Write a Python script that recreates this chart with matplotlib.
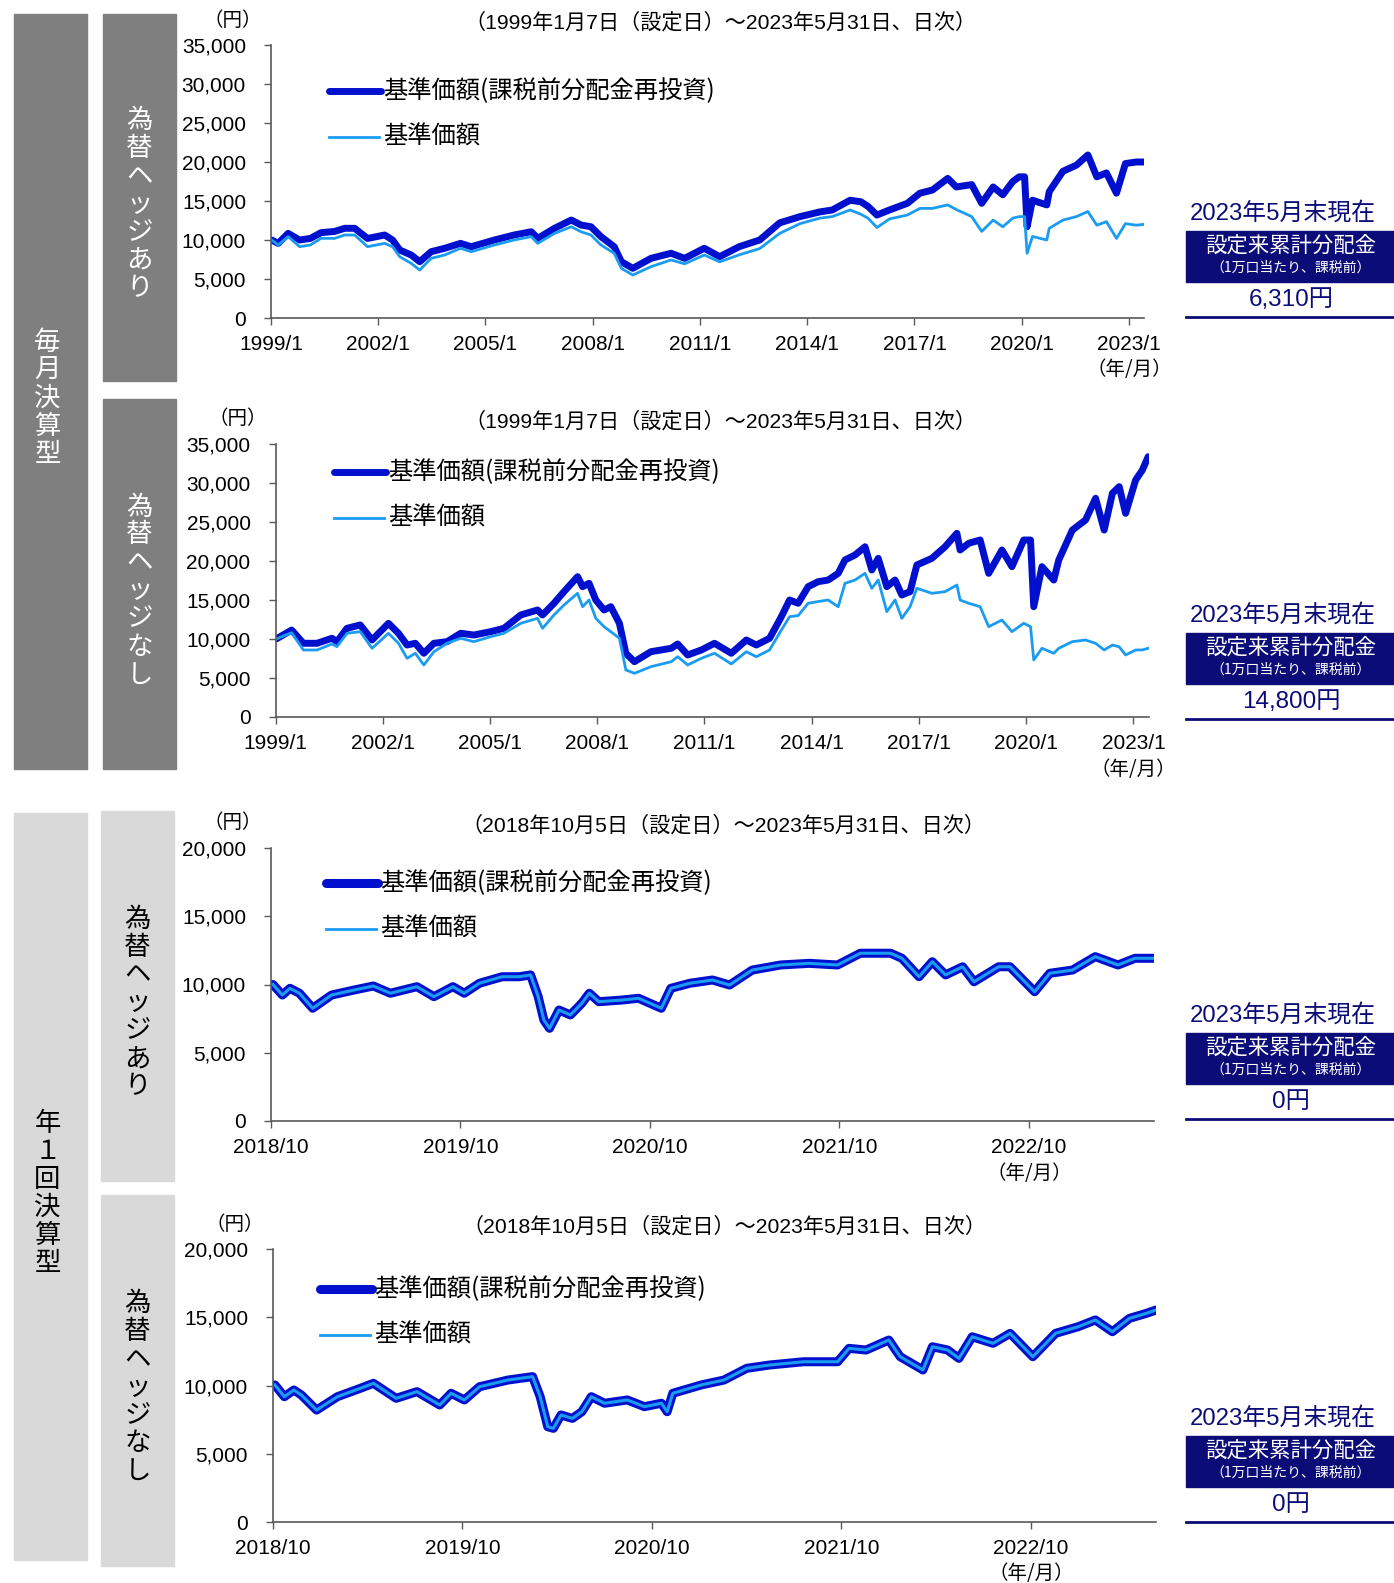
import matplotlib
matplotlib.use('Agg')
import matplotlib.pyplot as plt
from matplotlib.patches import Rectangle
from matplotlib.lines import Line2D

plt.rcParams['font.family'] = ['Liberation Sans', 'Noto Sans CJK JP', 'DejaVu Sans']
JP = ['Noto Sans CJK JP', 'DejaVu Sans']

# ---- data (decimal years) ----
# monthly settlement, hedged
mh_years = [1999.02, 1999.2, 1999.48, 1999.8, 2000.1, 2000.4, 2000.78, 2001.06, 2001.34, 2001.7,
            2002.18, 2002.4, 2002.6, 2002.92, 2003.16, 2003.48, 2003.86, 2004.3, 2004.6, 2005.25,
            2005.8, 2006.28, 2006.46, 2006.93, 2007.4, 2007.67, 2007.95, 2008.23, 2008.6, 2008.8,
            2009.12, 2009.63, 2010.19, 2010.57, 2011.12, 2011.55, 2012.1, 2012.67, 2013.23, 2013.8,
            2014.35, 2014.7, 2015.2, 2015.5, 2015.7, 2015.95, 2016.3, 2016.8, 2017.15, 2017.5,
            2017.93, 2018.17, 2018.6, 2018.88, 2019.2, 2019.47, 2019.75, 2019.93, 2020.08, 2020.15,
            2020.3, 2020.7, 2020.77, 2021.15, 2021.53, 2021.85, 2022.1, 2022.37, 2022.65, 2022.9,
            2023.2, 2023.41]
mh_reinv = [10000, 9570, 10850, 10000, 10200, 10940, 11100, 11500, 11500, 10200,
            10640, 10000, 8720, 8080, 7220, 8500, 8940, 9570, 9140, 10000,
            10640, 11060, 10210, 11500, 12560, 11920, 11700, 10430, 9140, 7220,
            6370, 7650, 8300, 7650, 8940, 7860, 9150, 10000, 12200, 13000,
            13600, 13850, 15100, 14900, 14300, 13200, 13850, 14700, 16000, 16400,
            17900, 16800, 17100, 14700, 16800, 15800, 17500, 18100, 18100, 11700,
            15100, 14500, 16200, 18800, 19600, 20900, 18100, 18600, 16000, 19800,
            20000, 20000]
mh_nav = [10000, 9360, 10430, 9140, 9360, 10210, 10210, 10640, 10640, 9140,
          9570, 9140, 7860, 7010, 6150, 7650, 8080, 8940, 8500, 9360,
          10000, 10430, 9570, 10850, 11700, 11060, 10640, 9360, 8300, 6370,
          5510, 6580, 7440, 6950, 8080, 7200, 8100, 8900, 10850, 12100,
          12800, 13000, 13850, 13300, 12800, 11600, 12700, 13200, 14050, 14050,
          14500, 13900, 13000, 11100, 12550, 11700, 12800, 13000, 13000, 8300,
          10450, 10000, 11500, 12550, 13000, 13650, 11900, 12350, 10200, 12100,
          11900, 12000]

# monthly settlement, unhedged
mu_years = [1999.02, 1999.45, 1999.78, 2000.16, 2000.58, 2000.72, 2001.0, 2001.37, 2001.7, 2002.16,
            2002.44, 2002.68, 2002.91, 2003.15, 2003.43, 2003.8, 2004.18, 2004.55, 2005.02, 2005.39,
            2005.86, 2006.33, 2006.47, 2006.79, 2007.07, 2007.45, 2007.59, 2007.77, 2007.96, 2008.19,
            2008.38, 2008.62, 2008.8, 2009.04, 2009.5, 2010.07, 2010.25, 2010.53,
            2010.91, 2011.28, 2011.75, 2012.17, 2012.45, 2012.82, 2013.15, 2013.38, 2013.62, 2013.9,
            2014.18, 2014.46, 2014.74, 2014.93, 2015.21, 2015.49, 2015.68, 2015.86, 2016.1, 2016.33,
            2016.52, 2016.75, 2016.94, 2017.36, 2017.73, 2018.06, 2018.15, 2018.39, 2018.71, 2018.95,
            2019.32, 2019.6, 2019.93, 2020.12, 2020.21, 2020.44, 2020.77, 2020.91, 2021.29, 2021.66,
            2021.94, 2022.18, 2022.41, 2022.6, 2022.78, 2023.06, 2023.25, 2023.41]
mu_reinv = [10000, 11150, 9450, 9450, 10090, 9660, 11370, 11800, 9870, 12010,
            10730, 9230, 9450, 8170, 9450, 9660, 10730, 10510, 10940, 11370,
            13080, 13720, 13080, 14580, 16070, 17990, 16710, 17140, 15000, 13720,
            14140, 12010, 8170, 7090, 8370, 8810, 9360, 7950,
            8590, 9450, 8170, 9870, 9230, 10090, 12860, 15000, 14580, 16710,
            17350, 17560, 18420, 20130, 20770, 21830, 18850, 20340, 16710, 17560,
            15640, 16070, 19490, 20340, 21830, 23550, 21410, 22270, 22690, 18420,
            21410, 19270, 22690, 22690, 14140, 19270, 17560, 20130, 23970, 25260,
            28040, 23970, 28680, 29530, 26110, 30380, 31670, 33370]
mu_nav = [10000, 10810, 8590, 8590, 9360, 9020, 10730, 10940, 8810, 10730,
          9450, 7520, 8170, 6670, 8370, 9450, 10090, 9660, 10300, 10730,
          12010, 12650, 11370, 13080, 14360, 15860, 14140, 15000, 12650, 11580,
          10940, 10090, 6030, 5600, 6450, 7090, 7730, 6670,
          7520, 8170, 6800, 8370, 7730, 8590, 11150, 12860, 13000, 14580,
          14800, 15000, 14140, 17140, 17560, 18420, 16500, 17560, 13500, 15000,
          12650, 14140, 16500, 15860, 16070, 16920, 15000, 14580, 14140, 11580,
          12440, 10940, 12010, 11580, 7310, 8810, 8170, 8810, 9660, 9870,
          9450, 8590, 9230, 9000, 7950, 8590, 8600, 8810]

# annual settlement, hedged (no distributions -> both series equal)
ah_years = [2018.76, 2018.81, 2018.85, 2018.9, 2018.97, 2019.07, 2019.19, 2019.29, 2019.38, 2019.52,
            2019.61, 2019.71, 2019.77, 2019.85, 2019.97, 2020.06, 2020.12, 2020.16, 2020.19, 2020.22,
            2020.27, 2020.33, 2020.39, 2020.43, 2020.48, 2020.6, 2020.69, 2020.81, 2020.86, 2020.96,
            2021.08, 2021.17, 2021.29, 2021.44, 2021.59, 2021.74, 2021.86, 2022.02, 2022.08, 2022.17,
            2022.24, 2022.31, 2022.4, 2022.46, 2022.59, 2022.65, 2022.78, 2022.86, 2022.98, 2023.1,
            2023.22, 2023.31, 2023.41]
ah_nav = [10000, 9230, 9720, 9360, 8260, 9230, 9600, 9890, 9360, 9840,
          9110, 9840, 9360, 10090, 10570, 10570, 10700, 9110, 7400, 6790,
          8130, 7770, 8620, 9360, 8740, 8860, 8990, 8260, 9720, 10090,
          10330, 9960, 11060, 11430, 11550, 11430, 12290, 12290, 11920, 10570,
          11670, 10700, 11300, 10200, 11300, 11300, 9470, 10820, 11060, 12040,
          11430, 11920, 11920]
ah_reinv = list(ah_nav)

# annual settlement, unhedged
au_years = [2018.76, 2018.81, 2018.86, 2018.9, 2018.98, 2019.09, 2019.21, 2019.28, 2019.4, 2019.51,
            2019.63, 2019.69, 2019.76, 2019.84, 2019.99, 2020.12, 2020.16, 2020.2, 2020.23, 2020.27,
            2020.33, 2020.38, 2020.43, 2020.5, 2020.62, 2020.71, 2020.8, 2020.83, 2020.86, 2021.01,
            2021.13, 2021.25, 2021.37, 2021.55, 2021.73, 2021.79, 2021.88, 2022.0, 2022.06, 2022.18,
            2022.23, 2022.31, 2022.37, 2022.44, 2022.55, 2022.64, 2022.76, 2022.88, 2023.0, 2023.09,
            2023.18, 2023.27, 2023.36, 2023.41]
au_nav = [10040, 9180, 9670, 9300, 8200, 9180, 9790, 10160, 9060, 9550,
          8570, 9430, 8940, 9910, 10400, 10650, 9180, 6980, 6860, 7840,
          7590, 8080, 9180, 8700, 8940, 8450, 8700, 8080, 9430, 10040,
          10400, 11260, 11500, 11740, 11740, 12720, 12600, 13330, 12110, 11140,
          12840, 12600, 11990, 13570, 13090, 13820, 12110, 13820, 14310, 14800,
          13940, 14920, 15290, 15530]
au_reinv = list(au_nav)

monthly_ticks = [1999, 2002, 2005, 2008, 2011, 2014, 2017, 2020, 2023]
monthly_labels = ['1999/1', '2002/1', '2005/1', '2008/1', '2011/1', '2014/1', '2017/1', '2020/1', '2023/1']
annual_ticks = [2018.75, 2019.75, 2020.75, 2021.75, 2022.75]
annual_labels = ['2018/10', '2019/10', '2020/10', '2021/10', '2022/10']

monthly_period = '（1999年1月7日（設定日）～2023年5月31日、日次）'
annual_period = '（2018年10月5日（設定日）～2023年5月31日、日次）'
dist_values = ['6,310円', '14,800円', '0円', '0円']

DARK = '#0010cc'
LIGHT = '#1a9cf2'
NAVY = '#0c0c78'
AXC = '#595959'

W, H = 1394, 1583
fig = plt.figure(figsize=(W / 100, H / 100), dpi=100)


def fx(x):
    return x / W


def fy(y):
    return 1 - y / H


def band(x0, x1, y0, y1, color, label, tcolor, dx=0):
    fig.add_artist(Rectangle((fx(x0), fy(y1)), (x1 - x0) / W, (y1 - y0) / H,
                             transform=fig.transFigure, color=color, zorder=0))
    step = 28
    yc = (y0 + y1) / 2 + 7
    n = len(label)
    for i, ch in enumerate(label):
        fig.text(fx((x0 + x1) / 2 + dx), fy(yc + (i - (n - 1) / 2) * step), ch,
                 ha='center', va='center', fontsize=19, color=tcolor, family=JP)


def tick_px(ax, t):
    x0, x1 = ax.get_xlim()
    bb = ax.get_position()
    return (bb.x0 + (t - x0) / (x1 - x0) * bb.width) * W


def chart(x0, x1, y0, y1, years, reinv, nav, xlim, ymax, ticks, labels,
          thick, thin, title, title_x, leg_x, leg_y):
    ax = fig.add_axes([fx(x0), fy(y1), (x1 - x0) / W, (y1 - y0) / H])
    ax.plot(years, reinv, color=DARK, lw=thick, solid_joinstyle='round', solid_capstyle='round')
    ax.plot(years, nav, color=LIGHT, lw=thin, solid_joinstyle='round')
    ax.set_xlim(*xlim)
    ax.set_ylim(0, ymax)
    ax.set_yticks(range(0, ymax + 1, 5000))
    ax.set_yticklabels([f'{v:,}' for v in range(0, ymax + 1, 5000)])
    ax.set_xticks(ticks)
    ax.set_xticklabels(labels)
    ax.tick_params(direction='out', length=5, width=1, color=AXC, labelsize=15, pad=4)
    ax.tick_params(axis='y', pad=13)
    ax.tick_params(axis='x', pad=7)
    for s in ['top', 'right']:
        ax.spines[s].set_visible(False)
    for s in ['left', 'bottom']:
        ax.spines[s].set_color(AXC)
        ax.spines[s].set_linewidth(1.2)
    ax.patch.set_alpha(0)
    # texts around the plot
    fig.text(fx(title_x), fy(y0 - 23), title, ha='center', va='center', fontsize=15.2)
    fig.text(fx(x0 - 38), fy(y0 - 25), '（円）', ha='center', va='center', fontsize=14, family=JP)
    fig.text(fx(tick_px(ax, ticks[-1])), fy(y1 + 52), '（年/月）', ha='center', va='center',
             fontsize=14, family=JP)
    # legend
    fig.add_artist(Line2D([fx(leg_x), fx(leg_x + 52)], [fy(leg_y), fy(leg_y)], transform=fig.transFigure,
                          color=DARK, lw=thick, solid_capstyle='round'))
    fig.add_artist(Line2D([fx(leg_x), fx(leg_x + 50)], [fy(leg_y + 46), fy(leg_y + 46)],
                          transform=fig.transFigure, color=LIGHT, lw=2))
    fig.text(fx(leg_x + 54), fy(leg_y), '基準価額(課税前分配金再投資)', ha='left', va='center',
             fontsize=17.5, family=JP)
    fig.text(fx(leg_x + 54), fy(leg_y + 46), '基準価額', ha='left', va='center', fontsize=17.5, family=JP)
    return ax


# side bands
band(14, 87, 14, 769, '#7f7f7f', '毎月決算型', 'white', dx=-3)
band(103, 176, 14, 381, '#7f7f7f', '為替ヘッジあり', 'white')
band(103, 176, 399, 769, '#7f7f7f', '為替ヘッジなし', 'white')
band(14, 87, 813, 1560, '#d9d9d9', '年１回決算型', 'black', dx=-3)
band(101, 174, 811, 1181, '#d9d9d9', '為替ヘッジあり', 'black')
band(101, 174, 1195, 1566, '#d9d9d9', '為替ヘッジなし', 'black')

chart(271, 1144, 45, 318, mh_years, mh_reinv, mh_nav, (1999.0, 2023.42), 35000,
      monthly_ticks, monthly_labels, 5.0, 2.0, monthly_period, 720, 329, 91)
chart(275.5, 1148.5, 444, 717, mu_years, mu_reinv, mu_nav, (1999.0, 2023.42), 35000,
      monthly_ticks, monthly_labels, 5.0, 2.0, monthly_period, 720, 334, 472)
chart(271, 1154, 848, 1121, ah_years, ah_reinv, ah_nav, (2018.75, 2023.41), 20000,
      annual_ticks, annual_labels, 6.5, 2.2, annual_period, 723, 326, 883)
chart(273, 1156, 1249, 1522, au_years, au_reinv, au_nav, (2018.75, 2023.41), 20000,
      annual_ticks, annual_labels, 6.5, 2.2, annual_period, 724, 320, 1289)

# distribution boxes on the right
for y, val in zip([213, 615, 1015, 1418], dist_values):
    fig.text(fx(1283), fy(y), '2023年5月末現在', ha='center', va='center', fontsize=17.2, color=NAVY)
    fig.add_artist(Rectangle((fx(1186), fy(y + 69)), (1394 - 1186) / W, 51 / H,
                             transform=fig.transFigure, color=NAVY, zorder=0))
    fig.text(fx(1291), fy(y + 34), '設定来累計分配金', ha='center', va='center', fontsize=15.4,
             color='white', family=JP)
    fig.text(fx(1291), fy(y + 55), '（1万口当たり、課税前）', ha='center', va='center', fontsize=10,
             color='white', family=JP)
    fig.text(fx(1291), fy(y + 87), val, ha='center', va='center', fontsize=17.5, color=NAVY)
    fig.add_artist(Line2D([fx(1186), fx(1394)], [fy(y + 104), fy(y + 104)],
                          transform=fig.transFigure, color=NAVY, lw=2))

fig.savefig('out.png', dpi=100)
